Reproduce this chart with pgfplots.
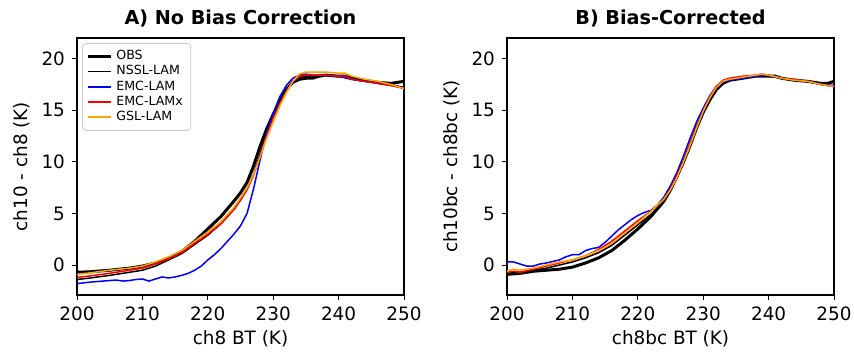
\documentclass[border=0pt]{standalone}
\usepackage{pgfplots}
\pgfplotsset{compat=1.18}
\usepackage{fontspec}
\setmainfont{DejaVu Sans}
\definecolor{mplorange}{RGB}{255,165,0}
\begin{document}
\begin{tikzpicture}
\path[use as bounding box] (0pt,0pt) rectangle (427pt,176.5pt);
\pgfplotsset{
  every axis/.append style={
    scale only axis, width=163.5pt, height=128.5pt,
    xmin=200, xmax=250, ymin=-2.9, ymax=22,
    xtick={200,210,...,250}, ytick={0,5,10,15,20},
    tick pos=left, tick align=outside,
    major tick length=2.5pt,
    tick style={black, line width=0.5pt},
    axis line style={line width=0.6pt},
    /pgf/number format/assume math mode=true,
    tick label style={font=\fontsize{9.2}{10}\selectfont},
    label style={font=\fontsize{9.2}{10}\selectfont},
    title style={font=\fontsize{9.6}{10}\selectfont\bfseries, yshift=-4pt},
    xlabel style={yshift=2pt},
    ylabel style={yshift=-1pt},
  },
  obs/.style={black, line width=1.5pt},
  nssl/.style={black, line width=0.75pt},
  emc/.style={blue, line width=0.75pt},
  emcx/.style={red, line width=0.75pt},
  gsl/.style={mplorange, line width=0.75pt},
}
\begin{axis}[at={(38.5pt,29pt)}, anchor=south west,
  title={A) No Bias Correction},
  xlabel={ch8 BT (K)}, ylabel={ch10 - ch8 (K)},
  legend style={font=\fontsize{6.3}{7}\selectfont, draw=black!20, rounded corners=2pt, fill=white, fill opacity=0.8, text opacity=1, inner xsep=2pt, inner ysep=1.5pt, row sep=-2.6pt, anchor=north west, at={(axis description cs:0,1)}, xshift=2.5pt, yshift=-2.5pt},
  legend image code/.code={\draw[#1] (0pt,0pt) -- (11.5pt,0pt);},
  legend cell align=left,
]
\addplot[obs] coordinates {(200,-0.7)(202,-0.65)(205,-0.5)(208,-0.3)(210,-0.1)(212,0.2)(214,0.6)(216,1.3)(218,2.3)(220,3.5)(222,4.7)(224,6.2)(225,7.0)(226,8.0)(227,9.6)(228,11.5)(229,13.2)(230,14.6)(231,15.9)(232,17.0)(233,17.7)(234,18.0)(235,18.1)(236,18.1)(237,18.3)(238,18.4)(240,18.3)(241,18.3)(242,18.1)(244,17.9)(246,17.7)(248,17.6)(249,17.7)(250,17.8)};
\addlegendentry{OBS}
\addplot[nssl] coordinates {(200,-1.4)(202,-1.25)(205,-1.0)(208,-0.7)(210,-0.5)(212,-0.1)(214,0.5)(216,1.1)(218,2.0)(220,2.9)(222,4.0)(224,5.4)(225,6.3)(226,7.4)(227,8.8)(228,10.8)(229,12.7)(230,14.3)(231,15.7)(232,16.9)(233,17.8)(234,18.2)(235,18.3)(236,18.3)(238,18.4)(240,18.3)(242,18.0)(244,17.8)(246,17.7)(248,17.5)(250,17.2)};
\addlegendentry{NSSL-LAM}
\addplot[emc] coordinates {(200,-1.8)(202,-1.65)(205,-1.5)(206,-1.45)(207,-1.55)(208,-1.5)(209,-1.4)(210,-1.35)(211,-1.55)(212,-1.35)(213,-1.15)(214,-1.25)(215,-1.15)(216,-1.0)(217,-0.8)(218,-0.5)(219,-0.1)(220,0.5)(221,1.0)(222,1.6)(223,2.3)(224,3.0)(225,3.8)(226,5.0)(227,7.4)(228,10.2)(229,12.8)(230,14.7)(231,16.3)(232,17.4)(233,18.1)(234,18.4)(235,18.5)(236,18.4)(238,18.4)(240,18.3)(242,18.0)(244,17.8)(246,17.6)(248,17.4)(250,17.2)};
\addlegendentry{EMC-LAM}
\addplot[emcx] coordinates {(200,-1.2)(202,-1.05)(205,-0.8)(208,-0.5)(210,-0.3)(212,0.1)(214,0.6)(216,1.2)(218,2.1)(220,3.0)(222,4.0)(224,5.4)(225,6.3)(226,7.3)(227,8.7)(228,10.6)(229,12.5)(230,14.2)(231,15.6)(232,16.8)(233,17.8)(234,18.3)(235,18.4)(236,18.4)(238,18.4)(240,18.3)(241,18.3)(242,18.0)(244,17.8)(246,17.6)(248,17.4)(250,17.1)};
\addlegendentry{EMC-LAMx}
\addplot[gsl] coordinates {(200,-0.9)(202,-0.75)(205,-0.5)(208,-0.3)(210,-0.1)(212,0.3)(214,0.8)(216,1.4)(218,2.3)(220,3.2)(222,4.2)(224,5.6)(225,6.5)(226,7.5)(227,8.8)(228,10.5)(229,12.3)(230,13.9)(231,15.4)(232,16.7)(233,17.8)(234,18.5)(235,18.7)(236,18.7)(238,18.7)(240,18.6)(241,18.6)(242,18.3)(244,18.0)(246,17.8)(248,17.5)(250,17.1)};
\addlegendentry{GSL-LAM}
\end{axis}
\begin{axis}[at={(253.5pt,29pt)}, anchor=south west,
  title={B) Bias-Corrected},
  xlabel={ch8bc BT (K)}, ylabel={ch10bc - ch8bc (K)},
]
\addplot[obs] coordinates {(200,-0.9)(202,-0.8)(204,-0.6)(206,-0.5)(208,-0.4)(210,-0.2)(212,0.2)(214,0.7)(216,1.4)(218,2.4)(220,3.5)(222,4.7)(224,6.2)(225,7.3)(226,8.6)(227,10.0)(228,11.6)(229,13.3)(230,14.8)(231,16.0)(232,17.0)(233,17.6)(234,17.9)(235,18.0)(236,18.1)(238,18.3)(240,18.3)(241,18.3)(242,18.1)(244,17.9)(246,17.8)(248,17.6)(249,17.6)(250,17.8)};
\addplot[nssl] coordinates {(200,-0.8)(202,-0.7)(204,-0.5)(206,-0.3)(208,0.0)(210,0.3)(212,0.7)(214,1.2)(216,1.9)(218,2.9)(220,3.9)(222,4.9)(224,6.2)(225,7.2)(226,8.5)(227,10.0)(228,11.7)(229,13.4)(230,14.9)(231,16.2)(232,17.2)(233,17.7)(234,18.0)(236,18.1)(238,18.3)(240,18.3)(242,18.1)(244,17.9)(246,17.8)(248,17.5)(250,17.3)};
\addplot[emc] coordinates {(200,0.3)(201,0.3)(202,0.1)(203,-0.1)(204,-0.1)(205,0.1)(206,0.2)(208,0.5)(209,0.8)(210,1.0)(211,1.0)(212,1.4)(213,1.6)(214,1.7)(215,2.2)(216,2.8)(217,3.4)(218,3.9)(219,4.4)(220,4.8)(221,5.1)(222,5.3)(223,5.8)(224,6.6)(225,7.7)(226,9.0)(227,10.6)(228,12.3)(229,13.9)(230,15.2)(231,16.4)(232,17.3)(233,17.7)(234,17.9)(235,18.0)(236,18.1)(238,18.3)(240,18.4)(242,18.1)(244,17.9)(246,17.8)(248,17.5)(250,17.4)};
\addplot[emcx] coordinates {(200,-0.7)(201,-0.6)(202,-0.7)(204,-0.4)(206,-0.1)(208,0.2)(210,0.5)(212,0.9)(214,1.5)(216,2.3)(218,3.3)(220,4.3)(222,5.2)(224,6.4)(225,7.4)(226,8.7)(227,10.1)(228,11.8)(229,13.4)(230,14.9)(231,16.3)(232,17.3)(233,17.9)(234,18.1)(235,18.2)(236,18.3)(238,18.4)(239,18.5)(240,18.4)(242,18.1)(244,18.0)(246,17.8)(248,17.5)(250,17.3)};
\addplot[gsl] coordinates {(200,-0.6)(201,-0.4)(202,-0.5)(204,-0.3)(206,0.0)(208,0.3)(210,0.5)(212,0.9)(214,1.4)(216,2.1)(218,3.1)(220,4.1)(222,5.2)(224,6.4)(225,7.3)(226,8.5)(227,10.0)(228,11.6)(229,13.3)(230,14.9)(231,16.2)(232,17.2)(233,17.8)(234,18.0)(235,18.1)(236,18.2)(238,18.4)(239,18.5)(240,18.4)(242,18.1)(244,17.9)(246,17.8)(248,17.5)(250,17.3)};
\end{axis}
\end{tikzpicture}
\end{document}
